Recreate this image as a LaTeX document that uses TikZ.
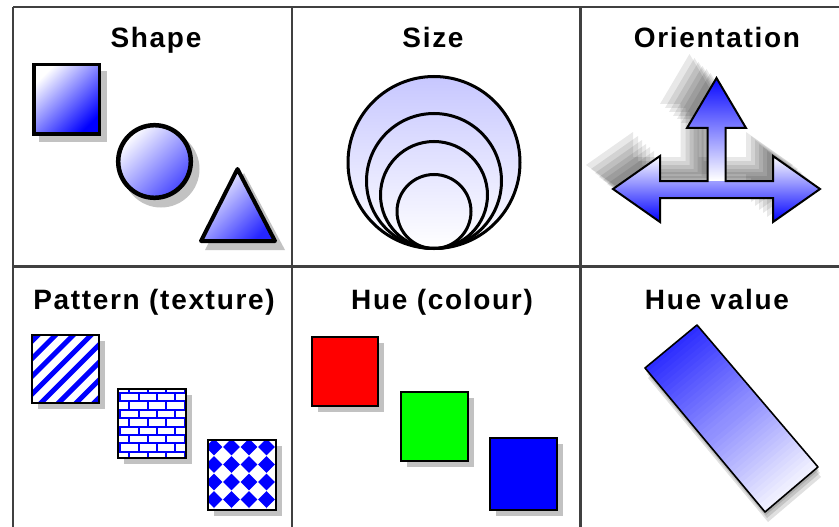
\documentclass[tikz,border=0pt]{standalone}
\usepackage{fontspec}
\newfontfamily\titlefont[LetterSpace=6]{Liberation Sans}
\usetikzlibrary{calc}
\begin{document}
\begin{tikzpicture}[x=1pt,y=-1pt,
 title/.style={font={\titlefont\bfseries\fontsize{28}{32}\selectfont}, anchor=base, inner sep=0pt},
 gridline/.style={line width=2.5pt, draw=black!75},
 shd/.style={fill=black!24, draw=none},
 tshd/.style={fill=black, fill opacity=0.09, draw=none},
 sqbox/.style={draw=black, line width=2pt},
]
\useasboundingbox (0,0) rectangle (839,527);
\fill[white] (0,0) rectangle (839,527);

% ---------- grid ----------
\draw[gridline] (13,7) -- (845,7);
\draw[gridline] (13,266.5) -- (845,266.5);
\draw[gridline] (13,7) -- (13,532);
\draw[gridline] (292,7) -- (292,532);
\draw[gridline] (580.5,7) -- (580.5,532);

% ---------- titles ----------
\node[title] (tShape) at (156,48) {Shape};
\node[title] (tSize) at (433,48) {Size};
\node[title] (tOrient) at (717,48) {Orientation};
\node[title] (tPattern) at (154,309) {Pattern (texture)};
\node[title] (tHue) at (442,309) {Hue (colour)};
\node[title] (tHueVal) at (717,309) {Hue value};

% ---------- Shape ----------
\fill[shd] (39,71) rectangle (107,142);
\shadedraw[top color=white, bottom color=blue, shading angle=45, draw=black, line width=3.5pt]
  (33.75,64.75) rectangle (99.25,134.25);
\fill[shd] (161,169) circle (38.5);
\shadedraw[top color=white, bottom color=blue!72!white, shading angle=45, draw=black, line width=4.5pt]
  (154.5,161.5) circle (36.3);
\fill[shd] (244,173) -- (285,250) -- (205,250) -- cycle;
\shadedraw[top color=white, bottom color=blue!85!white, shading angle=45, draw=black, line width=4pt, line join=round]
  (237.5,169) -- (275,241) -- (201,241) -- cycle;

% ---------- Size ----------
\shade[top color=blue!22!white, bottom color=white] (434,162.5) circle (86);
\foreach \r in {86,67.5,53.5,37}
  \draw[line width=3pt] (434,{248.5-\r}) circle (\r);

% ---------- Orientation ----------
\foreach \dx/\dy in {-27/-24,-22/-20,-18/-16,-14/-12,-10/-9,-6/-5}{
  \fill[tshd, shift={(\dx,\dy)}] (716.5,78) -- (746,128) -- (725.5,128) -- (725.5,181) -- (773,181) -- (773,156) -- (820,189) -- (773,222) -- (773,198) -- (660,198) -- (660,222) -- (613,189) -- (660,156) -- (660,181) -- (707.5,181) -- (707.5,128) -- (687,128) -- cycle;
}
\begin{scope}
  \clip (613,189) -- (660,156) -- (660,181) -- (773,181) -- (773,156) -- (820,189) -- (773,222) -- (773,198) -- (660,198) -- (660,222) -- cycle;
  \shade[top color=white, middle color=blue!28!white, bottom color=blue] (605,156) rectangle (825,222);
\end{scope}
\begin{scope}
  \clip (716.5,78) -- (746,128) -- (725.5,128) -- (725.5,182) -- (707.5,182) -- (707.5,128) -- (687,128) -- cycle;
  \shade[top color=blue!95!white, bottom color=white] (680,80) rectangle (750,180);
\end{scope}
\draw[line width=2pt, line join=miter] (716.5,78) -- (746,128) -- (725.5,128) -- (725.5,181) -- (773,181) -- (773,156) -- (820,189) -- (773,222) -- (773,198) -- (660,198) -- (660,222) -- (613,189) -- (660,156) -- (660,181) -- (707.5,181) -- (707.5,128) -- (687,128) -- cycle;

% ---------- Pattern ----------
% stripes
\fill[shd] (38,341) rectangle (105,409);
\begin{scope}
  \clip (32,335) rectangle (99,403);
  \fill[white] (32,335) rectangle (99,403);
  \foreach \k in {-2,...,9}
    \draw[blue, line width=5pt] (20,{373+17.7*\k-20}) -- (115,{373+17.7*\k-115});
\end{scope}
\draw[sqbox] (32,335) rectangle (99,403);
% bricks
\fill[shd] (124,395) rectangle (192,464);
\begin{scope}
  \clip (118,389) rectangle (186,458);
  \fill[white] (118,389) rectangle (186,458);
  \foreach \j in {0,...,7}
    \draw[blue, line width=2pt] (115,{393+8.4*\j}) -- (190,{393+8.4*\j});
  \foreach \r in {0,...,8}{
    \pgfmathsetmacro\ya{393+8.4*(\r-1)}
    \pgfmathsetmacro\yb{393+8.4*\r}
    \pgfmathsetmacro\xo{mod(\r,2)==0 ? 129.3 : 138.5}
    \foreach \k in {-1,...,4}
      \draw[blue, line width=2pt] ({\xo+18.4*\k},\ya) -- ({\xo+18.4*\k},\yb);
  }
\end{scope}
\draw[sqbox] (118,389) rectangle (186,458);
% diamonds
\fill[shd] (214,446) rectangle (282,516);
\begin{scope}
  \clip (208,440) rectangle (276,510);
  \fill[white] (208,440) rectangle (276,510);
  \foreach \i in {-1,...,4}
    \foreach \j in {-1,...,4}
      \fill[blue] ({214+17.5*\i-8.4},{447+17.5*\j}) -- ++(8.4,-8.4) -- ++(8.4,8.4) -- ++(-8.4,8.4) -- cycle;
\end{scope}
\draw[sqbox] (208,440) rectangle (276,510);

% ---------- Hue (colour) ----------
\fill[shd] (318,343) rectangle (384,412);
\draw[sqbox, fill={rgb,255:red,255;green,0;blue,0}] (312,337) rectangle (378,406);
\fill[shd] (407,398) rectangle (474,467);
\draw[sqbox, fill={rgb,255:red,0;green,255;blue,0}] (401,392) rectangle (468,461);
\fill[shd] (496,444) rectangle (563,516);
\draw[sqbox, fill={rgb,255:red,0;green,0;blue,255}] (490,438) rectangle (557,510);

% ---------- Hue value ----------
\coordinate (hvT) at (697,325);
\coordinate (hvL) at (645,368);
\coordinate (hvR) at (818,467);
\coordinate (hvB) at (765,512);
\foreach \dx/\dy in {1/3,2/6,3/10}{
  \fill[black, fill opacity=0.12, shift={(\dx,\dy)}] (697,325) -- (818,467) -- (765,512) -- (645,368) -- cycle;
}
\pgfmathsetmacro\N{40}
\foreach \i in {0,...,39}{
  \pgfmathsetmacro\a{\i/\N}
  \pgfmathsetmacro\b{min(1,(\i+1.4)/\N)}
  \pgfmathtruncatemacro\p{82-76*\i/39}
  \fill[blue!\p!white] ($(hvT)!\a!(hvR)$) -- ($(hvL)!\a!(hvB)$) -- ($(hvL)!\b!(hvB)$) -- ($(hvT)!\b!(hvR)$) -- cycle;
}
\draw[line width=1.6pt, line join=round] (hvT) -- (hvR) -- (hvB) -- (hvL) -- cycle;
\end{tikzpicture}
\end{document}
